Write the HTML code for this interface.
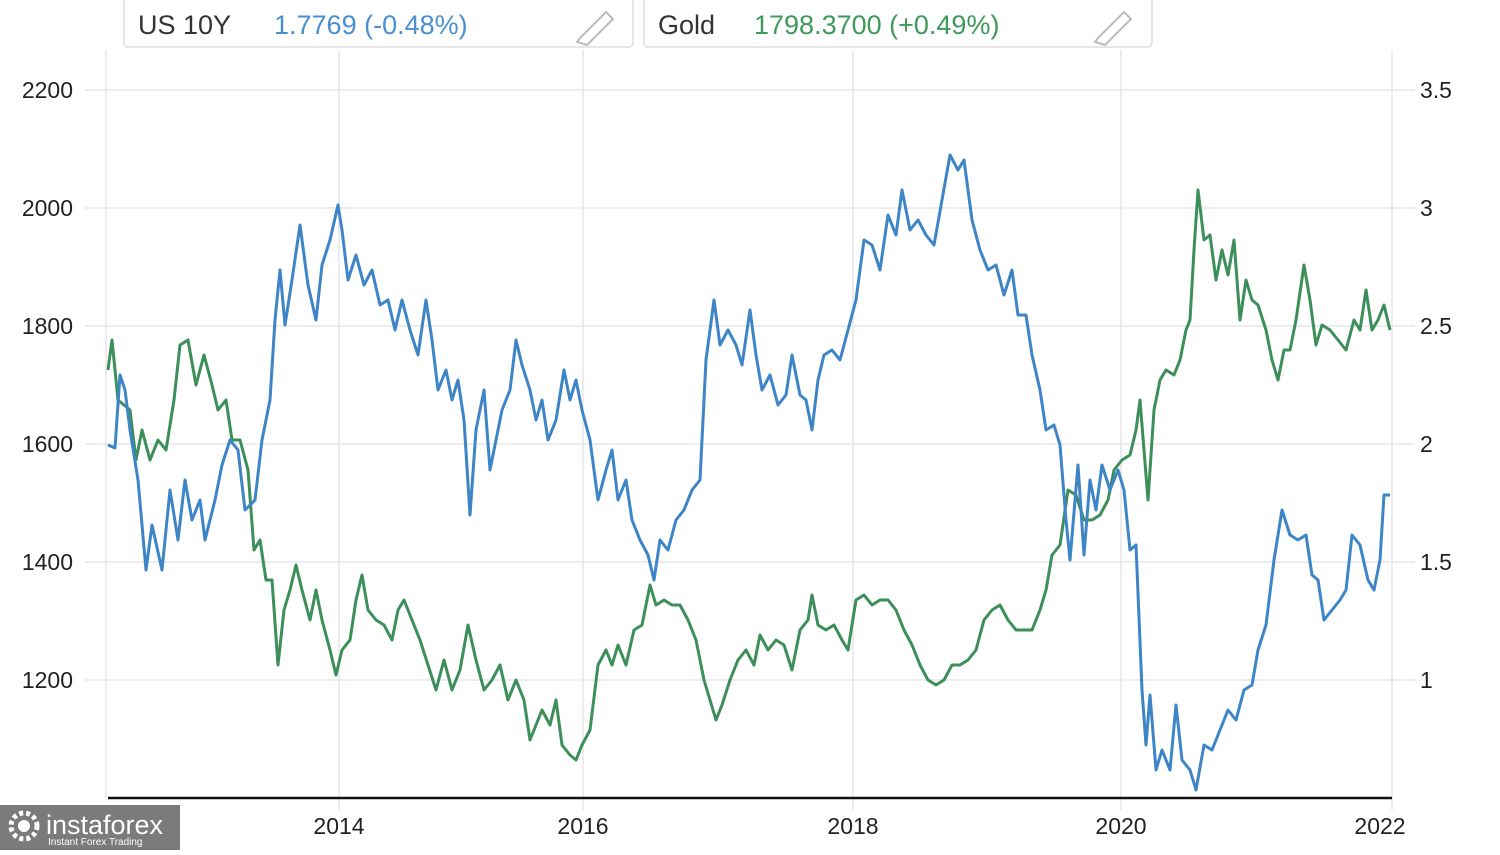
<!DOCTYPE html>
<html><head><meta charset="utf-8"><style>
body{margin:0;width:1500px;height:850px;background:#fff;overflow:hidden;font-family:"Liberation Sans",sans-serif}
</style></head><body>
<svg width="1500" height="850" xmlns="http://www.w3.org/2000/svg" font-family="Liberation Sans, sans-serif">
<g stroke="#e6e6ea" stroke-width="1.5">
<line x1="85" y1="90" x2="1415" y2="90"/><line x1="85" y1="208" x2="1415" y2="208"/><line x1="85" y1="326" x2="1415" y2="326"/><line x1="85" y1="444" x2="1415" y2="444"/><line x1="85" y1="562" x2="1415" y2="562"/><line x1="85" y1="680" x2="1415" y2="680"/>
<line x1="106" y1="50" x2="106" y2="798"/><line x1="339" y1="50" x2="339" y2="810"/><line x1="583" y1="50" x2="583" y2="810"/><line x1="853" y1="50" x2="853" y2="810"/><line x1="1121" y1="50" x2="1121" y2="810"/><line x1="1392" y1="50" x2="1392" y2="810"/>
</g>
<line x1="108" y1="798" x2="1392" y2="798" stroke="#111" stroke-width="2.5"/>
<g font-size="23" fill="#222">
<text x="73" y="98" text-anchor="end">2200</text><text x="73" y="216" text-anchor="end">2000</text><text x="73" y="334" text-anchor="end">1800</text><text x="73" y="452" text-anchor="end">1600</text><text x="73" y="570" text-anchor="end">1400</text><text x="73" y="688" text-anchor="end">1200</text>
<text x="1420" y="98">3.5</text><text x="1420" y="216">3</text><text x="1420" y="334">2.5</text><text x="1420" y="452">2</text><text x="1420" y="570">1.5</text><text x="1420" y="688">1</text>
<text x="339" y="834" text-anchor="middle">2014</text><text x="583" y="834" text-anchor="middle">2016</text><text x="853" y="834" text-anchor="middle">2018</text><text x="1121" y="834" text-anchor="middle">2020</text><text x="1380" y="834" text-anchor="middle">2022</text>
</g>
<rect x="124" y="-5" width="509" height="52" rx="4" fill="#fff" stroke="#ddd" stroke-width="1.5"/>
<rect x="644" y="-5" width="508" height="52" rx="4" fill="#fff" stroke="#ddd" stroke-width="1.5"/>
<text x="138" y="34" font-size="27" fill="#333">US 10Y</text><text x="274" y="34" font-size="27" fill="#4a8fce">1.7769 (-0.48%)</text>
<text x="658" y="34" font-size="27" fill="#333">Gold</text><text x="754" y="34" font-size="27" fill="#3d9a5a">1798.3700 (+0.49%)</text>
<g fill="none" stroke="#bbb" stroke-width="2"><path d="M580 38 L606 12 L613 19 L587 45 L577 42 Z"/><path d="M1098 38 L1124 12 L1131 19 L1105 45 L1095 42 Z"/></g>
<polyline fill="none" stroke="#3d8f5a" stroke-width="3" stroke-linejoin="round" points="108,370 112,340 118,400 124,405 130,410 136,460 142,430 150,460 158,440 166,450 174,400 180,345 188,340 196,385 204,355 212,385 218,410 226,400 232,440 240,440 248,470 254,550 260,540 266,580 272,580 278,665 284,610 290,590 296,565 302,590 310,620 316,590 322,620 330,650 336,675 342,650 350,640 356,600 362,575 368,610 376,620 384,625 392,640 398,610 404,600 412,620 420,640 428,665 436,690 444,660 452,690 460,670 468,625 476,660 484,690 492,680 500,665 508,700 516,680 524,700 530,740 536,725 542,710 550,725 556,700 562,745 570,755 576,760 582,745 590,730 598,665 606,650 612,665 618,645 626,665 634,630 642,625 650,585 656,605 664,600 672,605 680,605 688,620 696,640 704,680 710,700 716,720 722,705 730,680 738,660 746,650 754,665 760,635 768,650 776,640 784,645 792,670 800,630 808,620 812,595 818,625 826,630 834,625 842,640 848,650 856,600 864,595 872,605 880,600 888,600 896,610 904,630 912,645 920,665 928,680 936,685 944,680 952,665 960,665 968,660 976,650 984,620 992,610 1000,605 1008,620 1016,630 1024,630 1032,630 1040,610 1046,590 1052,555 1060,545 1068,490 1076,495 1084,520 1092,520 1100,515 1108,500 1114,470 1122,460 1130,455 1136,430 1140,400 1144,450 1148,500 1154,410 1160,380 1166,370 1174,375 1180,360 1186,330 1190,320 1194,250 1198,190 1204,240 1210,235 1216,280 1222,250 1228,275 1234,240 1240,320 1246,280 1252,300 1258,305 1266,330 1272,360 1278,380 1284,350 1290,350 1296,320 1304,265 1310,300 1316,345 1322,325 1330,330 1338,340 1346,350 1354,320 1360,330 1366,290 1372,330 1378,320 1384,305 1390,330"/>
<polyline fill="none" stroke="#3d85c6" stroke-width="3" stroke-linejoin="round" points="108,445 115,448 120,375 125,390 130,430 138,480 146,570 152,525 162,570 170,490 178,540 185,480 192,520 200,500 205,540 215,500 222,465 230,440 238,450 245,510 255,500 262,440 270,400 275,320 280,270 285,325 292,280 300,225 308,285 316,320 322,265 330,240 338,205 342,230 348,280 356,255 364,285 372,270 380,305 388,300 395,330 402,300 410,330 418,355 426,300 432,340 438,390 446,370 452,400 458,380 464,420 470,515 476,430 484,390 490,470 496,440 502,410 510,390 516,340 522,365 530,390 536,420 542,400 548,440 556,420 564,370 570,400 576,380 582,410 590,440 598,500 606,470 612,450 618,500 626,480 632,520 640,540 648,555 654,580 660,540 668,550 676,520 684,510 692,490 700,480 706,360 714,300 720,345 728,330 736,345 742,365 750,310 756,355 762,390 770,375 778,405 786,395 792,355 800,395 806,400 812,430 818,380 824,355 832,350 840,360 848,330 856,300 864,240 872,245 880,270 888,215 896,235 902,190 910,230 918,220 926,235 934,245 942,200 950,155 958,170 964,160 972,220 980,250 988,270 996,265 1004,295 1012,270 1018,315 1026,315 1032,355 1040,390 1046,430 1054,425 1060,445 1066,520 1070,560 1078,465 1084,555 1090,480 1096,510 1102,465 1110,490 1118,470 1124,490 1130,550 1136,545 1142,690 1146,745 1150,695 1156,770 1162,750 1170,770 1176,705 1182,760 1190,770 1196,790 1204,745 1212,750 1220,730 1228,710 1236,720 1244,690 1252,685 1258,650 1266,625 1274,560 1282,510 1290,535 1298,540 1306,535 1312,575 1318,580 1324,620 1332,610 1340,600 1346,590 1352,535 1360,545 1368,580 1374,590 1380,560 1384,495 1390,495"/>
<rect x="0" y="805" width="180" height="45" fill="#7b7b7b"/>
<circle cx="24" cy="826" r="13" fill="none" stroke="#fff" stroke-width="5" stroke-dasharray="4 3"/>
<circle cx="24" cy="826" r="6" fill="#fff"/>
<text x="46" y="834" font-size="27" fill="#fff">instaforex</text>
<text x="48" y="845" font-size="10" fill="#fff">Instant Forex Trading</text>
</svg>
</body></html>
